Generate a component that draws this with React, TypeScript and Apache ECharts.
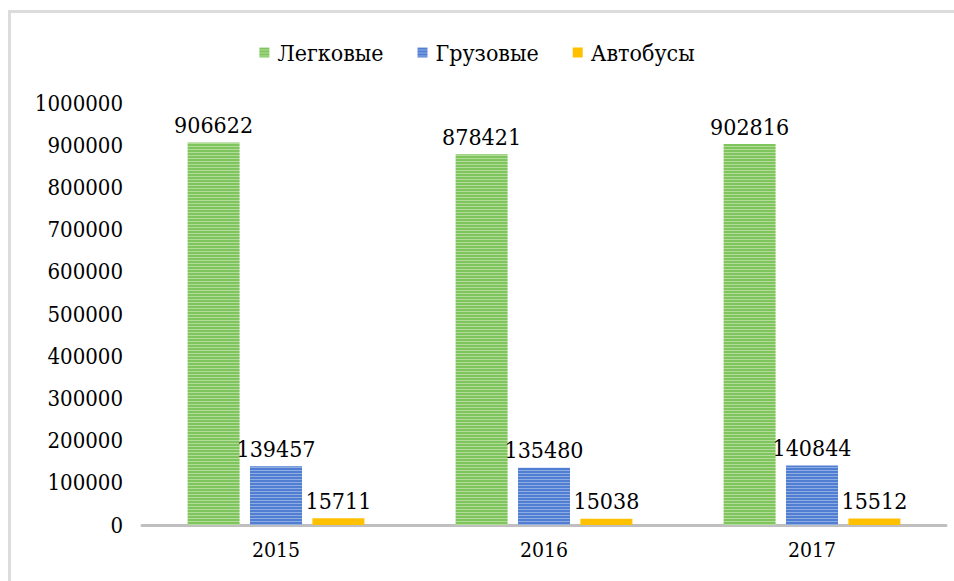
import React, { useEffect, useRef } from "react";
import * as echarts from "echarts";

const categories = ["2015", "2016", "2017"];
const seriesNames = ["Легковые", "Грузовые", "Автобусы"];
const cars = [906622, 878421, 902816];
const trucks = [139457, 135480, 140844];
const buses = [15711, 15038, 15512];

function stripe(dark: string, light: string): any {
  const c = document.createElement("canvas");
  c.width = 4;
  c.height = 3;
  const ctx = c.getContext("2d")!;
  ctx.fillStyle = dark;
  ctx.fillRect(0, 0, 4, 3);
  ctx.fillStyle = light;
  ctx.fillRect(0, 2, 4, 1);
  return { image: c.toDataURL(), repeat: "repeat" };
}

const FONT = "DejaVu Serif Condensed, DejaVu Serif";

export default function App() {
  const ref = useRef<HTMLDivElement>(null);
  useEffect(() => {
    const chart = echarts.init(ref.current!, null, { renderer: "svg" });
    const green = stripe("#7fc55e", "#b3dc9b");
    const blue = stripe("#4f7ed2", "#8fade2");
    const yellow = "#ffc000";
    const label = {
      show: true,
      position: "top",
      distance: 6,
      color: "#000",
      fontFamily: FONT,
      fontSize: 23,
    };
    const mk = (name: string, data: number[], color: any) => ({
      name,
      type: "bar",
      data,
      barWidth: 52,
      barGap: "20%",
      itemStyle: { color },
      label,
    });
    chart.setOption({
      animation: false,
      backgroundColor: "#fff",
      textStyle: { fontFamily: FONT },
      legend: {
        top: 36,
        left: "center",
        itemWidth: 10,
        itemHeight: 10,
        itemGap: 34,
        icon: "rect",
        textStyle: {
          fontFamily: FONT,
          fontSize: 23,
          color: "#000",
          padding: [0, 0, 0, 3],
        },
        data: seriesNames,
      },
      grid: { left: 142, right: 8, top: 103, bottom: 56 },
      xAxis: {
        type: "category",
        data: categories,
        axisLine: { lineStyle: { color: "#bfbfbf", width: 3 } },
        axisTick: { show: false },
        axisLabel: { fontFamily: FONT, fontSize: 21, color: "#000", margin: 14 },
      },
      yAxis: {
        type: "value",
        min: 0,
        max: 1000000,
        interval: 100000,
        axisLine: { show: false },
        axisTick: { show: false },
        splitLine: { show: false },
        axisLabel: {
          fontFamily: FONT,
          fontSize: 22,
          color: "#000",
          margin: 19,
          formatter: (v: number) => String(v),
        },
      },
      graphic: [
        {
          type: "rect",
          shape: { x: 9.5, y: 11.5, width: 1000, height: 1000 },
          style: { fill: "none", stroke: "#dcdcdc", lineWidth: 3 },
          silent: true,
        },
      ],
      series: [
        mk(seriesNames[0], cars, green),
        mk(seriesNames[1], trucks, blue),
        mk(seriesNames[2], buses, yellow),
      ],
    });
    return () => chart.dispose();
  }, []);
  return (
    <div
      ref={ref}
      style={{ position: "fixed", left: 0, top: 0, width: 954, height: 581 }}
    />
  );
}
